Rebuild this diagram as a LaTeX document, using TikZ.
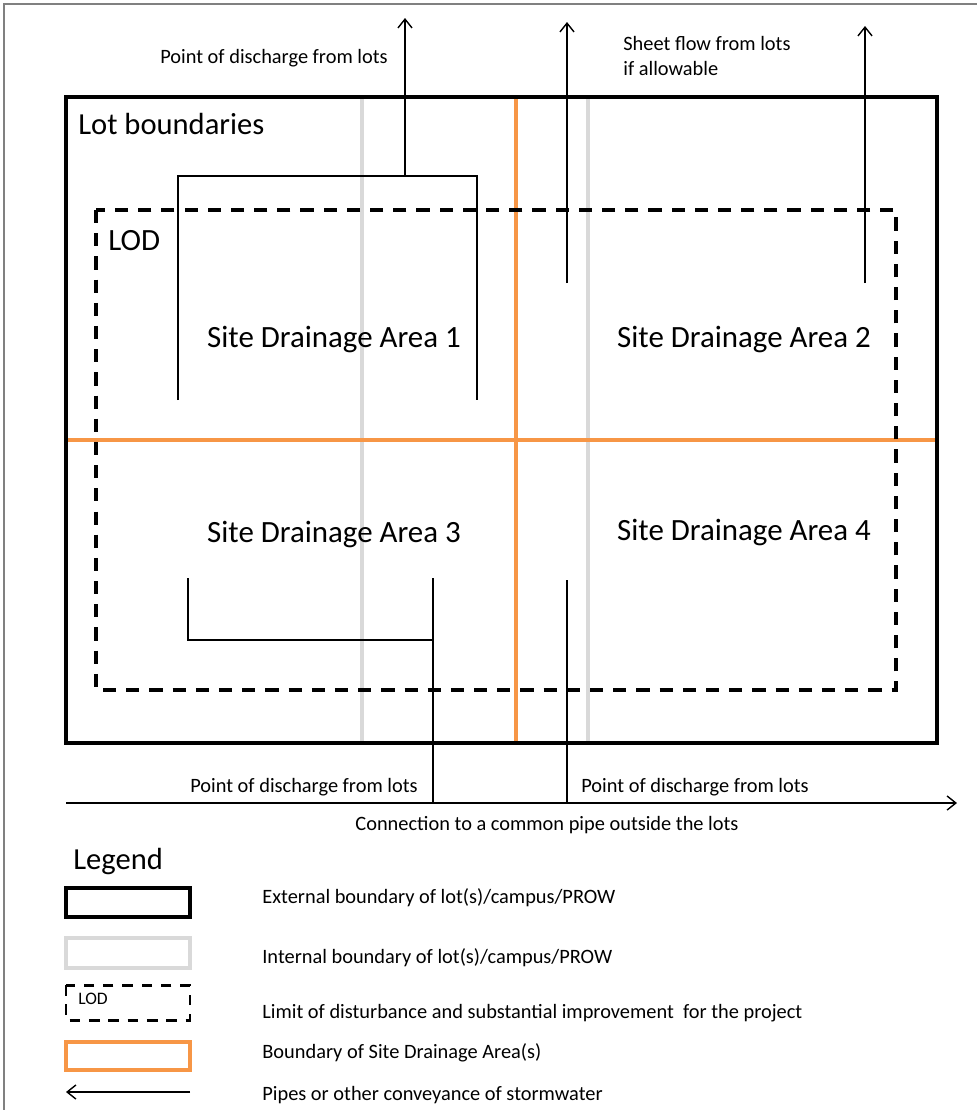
\documentclass[tikz,border=0pt]{standalone}
\usepackage{fontspec}
\setmainfont{Carlito}
\usetikzlibrary{arrows.meta, positioning}
\definecolor{sdaorange}{RGB}{247,150,70}
\definecolor{lotgray}{RGB}{217,217,217}
\definecolor{framegray}{RGB}{128,128,128}

\begin{document}
\begin{tikzpicture}[x=0.02cm, y=-0.02cm, >={Straight Barb[length=5pt, width=8pt]},
    extbound/.style={draw=black, line width=2pt},
    intbound/.style={draw=lotgray, line width=2.1pt},
    lodbound/.style={draw=black, line width=1.9pt, dash pattern=on 7.5pt off 5.7pt},
    sdabound/.style={draw=sdaorange, line width=2pt},
    pipe/.style={draw=black, line width=0.8pt},
    arealabel/.style={font=\fontsize{17.6}{21}\selectfont, inner sep=0pt},
    biglabel/.style={font=\fontsize{17.4}{21}\selectfont, inner sep=0pt},
    note/.style={font=\fontsize{11.6}{14}\selectfont, inner sep=0pt, align=left}]
    \useasboundingbox (0,0) rectangle (977,1110);
    % frame of the page
    \draw[framegray, line width=1pt] (4,1110) -- (4,4) -- (977,4);

    % lot and drainage boundaries
    \draw[intbound] (362,97) -- (362,743);
    \draw[intbound] (588,97) -- (588,743);
    \draw[sdabound] (516,97) -- (516,743);
    \draw[sdabound] (66,440) -- (937,440);
    \draw[lodbound] (96,210) rectangle (896,690);
    \draw[extbound] (66,97) rectangle (937,743);

    \node[biglabel, anchor=west] (lots) at (78,124) {Lot boundaries};
    \node[arealabel, anchor=west] (lod) at (108,241) {LOD};
    \node[arealabel] (sda1) at (334,340) {Site Drainage Area 1};
    \node[arealabel] (sda2) at (744,340) {Site Drainage Area 2};
    \node[arealabel] (sda3) at (334,535) {Site Drainage Area 3};
    \node[arealabel] (sda4) at (744,533) {Site Drainage Area 4};

    % pipes to the top
    \coordinate (p1a) at (178,400);
    \coordinate (p1b) at (477,400);
    \coordinate (p1m) at (405,176);
    \coordinate (out1) at (405,18);
    \coordinate (s2a) at (567,283);
    \coordinate (out2) at (567,22);
    \coordinate (s2b) at (865,283);
    \coordinate (out3) at (865,26);
    \draw[pipe] (p1a) |- (p1m) -| (p1b);
    \draw[pipe, ->] (p1m) -- (out1);
    \draw[pipe, ->] (s2a) -- (out2);
    \draw[pipe, ->] (s2b) -- (out3);
    \node[note, anchor=east] (topdis) at (388,58) {Point of discharge from lots};
    \node[note, anchor=north west] (sheet) at (623,36) {Sheet flow from lots\\if allowable};

    % pipes to the bottom
    \coordinate (p3a) at (188,578);
    \coordinate (p3b) at (433,578);
    \coordinate (p3c) at (433,803);
    \coordinate (p4a) at (567,580);
    \coordinate (p4c) at (567,803);
    \coordinate (cpa) at (66,803);
    \coordinate (cpb) at (957,803);
    \draw[pipe] (p3a) |- (433,640);
    \draw[pipe] (p3b) -- (p3c);
    \draw[pipe] (p4a) -- (p4c);
    \draw[pipe, ->] (cpa) -- (cpb);
    \node[note, anchor=east] (botdis1) at (418,787) {Point of discharge from lots};
    \node[note, anchor=west] (botdis2) at (581,787) {Point of discharge from lots};
    \node[note] (common) at (547,825) {Connection to a common pipe outside the lots};

    % legend
    \node[biglabel, anchor=west] (legend) at (73,862) {Legend};
    \draw[extbound] (66,888) rectangle (190,917);
    \draw[intbound] (66,938) rectangle (190,968);
    \draw[lodbound, line width=1.7pt, dash pattern=on 6pt off 5pt] (66,985) rectangle (190,1020);
    \node[note, font=\fontsize{10}{12}\selectfont, anchor=west] (lodkey) at (78,999) {LOD};
    \draw[sdabound] (66,1042) rectangle (190,1070);
    \coordinate (keya) at (190,1092);
    \coordinate (keyb) at (66,1092);
    \draw[pipe, ->] (keya) -- (keyb);
    \node[note, anchor=west] (k1) at (262,898) {External boundary of lot(s)/campus/PROW};
    \node[note, anchor=west] (k2) at (262,958) {Internal boundary of lot(s)/campus/PROW};
    \node[note, anchor=west] (k3) at (262,1013) {Limit of disturbance and substantial improvement\ \ for the project};
    \node[note, anchor=west] (k4) at (262,1053) {Boundary of Site Drainage Area(s)};
    \node[note, anchor=west] (k5) at (262,1095) {Pipes or other conveyance of stormwater};
\end{tikzpicture}
\end{document}
